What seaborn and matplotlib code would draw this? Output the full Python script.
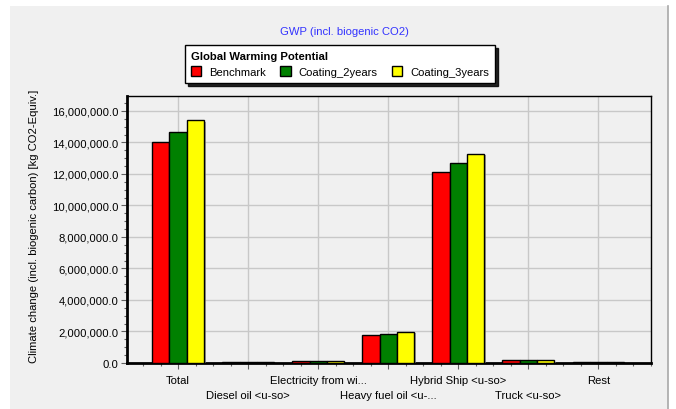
import pandas as pd
import matplotlib
matplotlib.use("Agg")
import matplotlib.pyplot as plt
import matplotlib.patheffects as pe
import matplotlib.transforms as mtransforms
from matplotlib.patches import Patch, Rectangle
from matplotlib.lines import Line2D
from matplotlib.ticker import FuncFormatter, MultipleLocator, NullFormatter
import seaborn as sns

# values (kg CO2-Equiv.)
categories = ['Total', 'Diesel oil <u-so>', 'Electricity from wi...',
              'Heavy fuel oil <u-...', 'Hybrid Ship <u-so>', 'Truck <u-so>', 'Rest']
scenarios = ['Benchmark', 'Coating_2years', 'Coating_3years']
benchmark = [14010000, 50000, 120000, 1780000, 12110000, 170000, 45000]
coating_2years = [14690000, 50000, 120000, 1840000, 12700000, 170000, 45000]
coating_3years = [15410000, 45000, 115000, 1970000, 13290000, 165000, 40000]
colors = ['#ff0000', '#008000', '#ffff00']

df = pd.DataFrame({
    'category': categories * 3,
    'scenario': [s for s in scenarios for _ in categories],
    'value': benchmark + coating_2years + coating_3years,
})

plt.rcParams['font.family'] = ['Liberation Sans', 'DejaVu Sans']
fs = 8.1
plt.rcParams['font.size'] = fs

fig = plt.figure(figsize=(6.76, 4.10), dpi=100)
fig.patch.set_facecolor('white')
# grey panel behind everything
fig.patches.append(Rectangle((10/676, 0), 658/676, 403/410, transform=fig.transFigure,
                             facecolor='#f0f0f0', edgecolor='none', zorder=-10))
fig.lines.append(Line2D([668/676, 668/676], [0, 403/410], transform=fig.transFigure,
                        color='#a8a8a8', lw=1.2))

ax = fig.add_axes([127/676, 46/410, 524/676, 267/410])
ax.set_facecolor('#f0f0f0')

sns.barplot(data=df, x='category', y='value', hue='scenario', order=categories,
            hue_order=scenarios, palette=colors, width=0.74, gap=0,
            edgecolor='black', linewidth=1.0, saturation=1, legend=False, ax=ax, zorder=3)

for bar in ax.patches:
    bar.set_path_effects([pe.SimplePatchShadow(offset=(1.5, -1.0), shadow_rgbFace='#808080', alpha=0.7),
                          pe.Normal()])

ax.set_xlim(-0.73, 6.75)
ax.set_ylim(0, 16950000)

ax.yaxis.set_major_locator(MultipleLocator(2000000))
ax.yaxis.set_minor_locator(MultipleLocator(500000))
ax.yaxis.set_major_formatter(FuncFormatter(lambda v, p: f"{v:,.1f}"))
ax.xaxis.set_minor_locator(MultipleLocator(0.25))

ax.set_xticks(range(len(categories)))
ax.xaxis.set_major_formatter(NullFormatter())
# staggered category labels: every second one drops a row
for i, cat in enumerate(categories):
    off = mtransforms.ScaledTranslation(0, -(12 if i % 2 == 0 else 27) / 100, fig.dpi_scale_trans)
    ax.text(i, 0, cat, transform=ax.get_xaxis_transform() + off,
            ha='center', va='top', fontsize=fs)

ax.grid(True, which='major', color='#c8c8c8', linewidth=1.0, zorder=0)
ax.set_axisbelow(True)

ax.tick_params(axis='both', which='major', length=4, width=0.8, color='#606060', labelsize=fs, pad=2)
ax.tick_params(axis='both', which='minor', length=2.5, width=0.8, color='#606060')

for side in ['top', 'right']:
    ax.spines[side].set_linewidth(1.0)
for side in ['left', 'bottom']:
    ax.spines[side].set_linewidth(2.0)
for s in ax.spines.values():
    s.set_color('black')

ax.set_xlabel('')
ax.set_ylabel('Climate change (incl. biogenic carbon) [kg CO2-Equiv.]', fontsize=fs)
ax.yaxis.set_label_coords(-0.168, 0.515)

fig.text(344/676, 1 - 32/410, 'GWP (incl. biogenic CO2)', color='#3333ff',
         ha='center', va='center', fontsize=fs)

handles = [Patch(facecolor=c, edgecolor='black', linewidth=1.0) for c in colors]
leg = ax.legend(handles, scenarios, title='Global Warming Potential', ncol=3,
                loc='center', bbox_to_anchor=(340/676, 1 - 65/410), bbox_transform=fig.transFigure,
                frameon=True, fancybox=False, shadow={'color': 'black', 'alpha': 0.85},
                edgecolor='black', facecolor='white', framealpha=1,
                handlelength=0.9, handleheight=0.9, handletextpad=0.7, columnspacing=1.3,
                borderpad=0.55, labelspacing=0.45, fontsize=fs, title_fontsize=fs, alignment='left')
leg.get_title().set_fontweight('bold')
leg.get_frame().set_linewidth(1.0)

fig.savefig('out.png', dpi=100, facecolor=fig.get_facecolor())
